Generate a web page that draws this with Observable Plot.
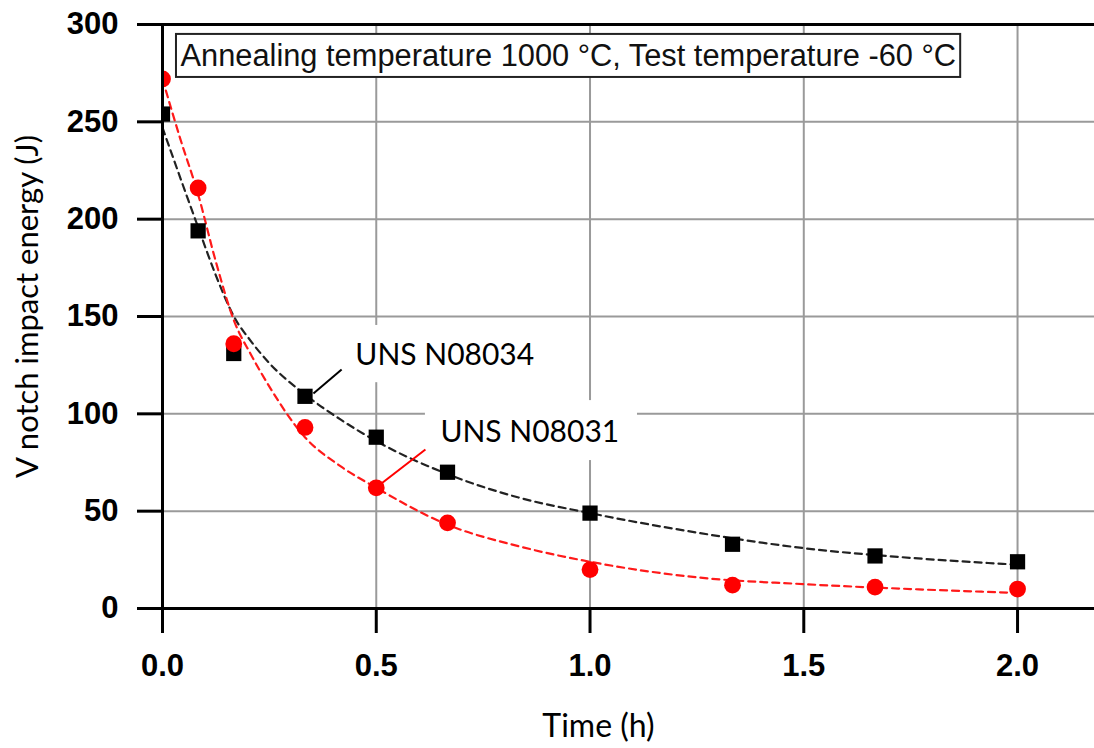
<!DOCTYPE html>
<html>
<head>
<meta charset="utf-8">
<script src="https://cdn.jsdelivr.net/npm/d3@7"></script>
<script src="https://cdn.jsdelivr.net/npm/@observablehq/plot@0.6"></script>
<style>
  html, body { margin: 0; padding: 0; background: #fff; }
  #chart svg { display: block; }
</style>
</head>
<body>
<div id="chart"></div>
<script>
// ---- measured data ----
const hours   = [0, 1/12, 1/6, 1/3, 0.5, 2/3, 1, 4/3, 5/3, 2];
const n08034  = [254, 194, 131, 109, 88, 70, 49, 33, 27, 24];
const n08031  = [272, 216, 136, 93, 62, 44, 20, 12, 11, 10];

// fitted trend curves
const fitHours = [0, 0.042, 0.083, 0.125, 0.167, 0.208, 0.25, 0.333, 0.417, 0.5, 0.667, 0.833, 1.0, 1.25, 1.5, 1.75, 2.0];
const fit34    = [247, 221, 196, 171, 150, 137, 126, 110, 97, 86, 69, 57, 49, 39, 31, 26, 22.5];
const fit31    = [272, 241, 213, 178, 148, 130, 114, 88, 73, 62, 43, 32, 24, 16, 12.5, 10, 8];

const xTicks = [0, 0.5, 1.0, 1.5, 2.0];
const yTicks = [0, 50, 100, 150, 200, 250, 300];
const xGrid  = [0.5, 1.0, 1.5, 2.0];
const yGrid  = [50, 100, 150, 200, 250];

// annotations
const titleText  = "Annealing temperature 1000 °C, Test temperature -60 °C";
const labelNames = ["UNS N08034", "UNS N08031"];
const labelX     = [0.451, 0.650];
const labelY     = [130, 90.5];
const labelColor = ["black", "red"];
const boxX1 = [0.428, 0.615], boxX2 = [0.896, 1.111];
const boxY1 = [116, 76],      boxY2 = [145.4, 106.8];
const leadX1 = [0.353, 0.512], leadY1 = [110.4, 64.2];
const leadX2 = [0.419, 0.615], leadY2 = [122.8, 81.7];

const pts34 = hours.map((h, i) => ({h, v: n08034[i]}));
const pts31 = hours.map((h, i) => ({h, v: n08031[i]}));
const line34 = fitHours.map((h, i) => ({h, v: fit34[i]}));
const line31 = fitHours.map((h, i) => ({h, v: fit31[i]}));
const labels = labelNames.map((t, i) => ({t, x: labelX[i], y: labelY[i], c: labelColor[i],
  bx1: boxX1[i], bx2: boxX2[i], by1: boxY1[i], by2: boxY2[i],
  lx1: leadX1[i], ly1: leadY1[i], lx2: leadX2[i], ly2: leadY2[i]}));

const calibri = "Lato, 'Open Sans', sans-serif";
const arial = "'Liberation Sans', Arial, sans-serif";

const chart = Plot.plot({
  width: 1094,
  height: 748,
  marginLeft: 162,
  marginRight: 0,
  marginTop: 24,
  marginBottom: 140,
  style: {background: "#fff", overflow: "visible"},
  x: {domain: [0, 2.18], axis: null},
  y: {domain: [0, 300], axis: null},
  marks: [
    // grid
    Plot.ruleX(xGrid, {stroke: "#9a9a9a", strokeWidth: 2}),
    Plot.ruleY(yGrid, {stroke: "#9a9a9a", strokeWidth: 2}),
    // white label boxes
    Plot.rect(labels, {x1: "bx1", x2: "bx2", y1: "by1", y2: "by2", fill: "white"}),
    // title box
    Plot.rect([titleText], {x1: () => 0.0327, x2: () => 1.867, y1: () => 272.8, y2: () => 294.9,
      fill: "white", stroke: "#222", strokeWidth: 2}),
    Plot.text([titleText], {x: () => 0.0421, y: () => 283.6, text: d => d, textAnchor: "start",
      fontFamily: arial, fontSize: 30.8, fill: "#111"}),
    // fit curves
    Plot.line(line34, {x: "h", y: "v", curve: "monotone-x", stroke: "#222", strokeWidth: 2.2, strokeDasharray: "7,5"}),
    Plot.line(line31, {x: "h", y: "v", curve: "monotone-x", stroke: "#ff1a1a", strokeWidth: 2.2, strokeDasharray: "7,5"}),
    // markers
    Plot.dot(pts34, {x: "h", y: "v", symbol: "square", r: 8.6, fill: "black", clip: true}),
    Plot.dot(pts31, {x: "h", y: "v", symbol: "circle", r: 8.4, fill: "#ff0000", clip: true}),
    // leader lines
    Plot.link(labels, {x1: "lx1", y1: "ly1", x2: "lx2", y2: "ly2", stroke: "c", strokeWidth: 2}),
    // label text
    Plot.text(labels, {x: "x", y: "y", text: "t", fill: "black", textAnchor: "start",
      fontFamily: calibri, fontSize: 30}),
    // axes frame lines
    Plot.ruleX([0], {stroke: "black", strokeWidth: 3}),
    Plot.ruleY([0, 300], {stroke: "black", strokeWidth: 3}),
    // axes
    Plot.axisY({ticks: yTicks, tickSize: 25, tickPadding: 19, fontSize: 31, fontWeight: "bold",
      fontFamily: arial, color: "black", strokeWidth: 3, label: null}),
    Plot.axisX({ticks: xTicks, tickSize: 25, tickPadding: 20, fontSize: 31, fontWeight: "bold",
      fontFamily: arial, color: "black", strokeWidth: 3, label: null, tickFormat: d3.format(".1f")}),
    // axis titles
    Plot.text(["V notch impact energy (J)"], {frameAnchor: "left", textAnchor: "middle", dx: -134, dy: -10, rotate: -90,
      fontFamily: calibri, fontSize: 31, fill: "black"}),
    Plot.text(["Time (h)"], {frameAnchor: "bottom", dx: -30, dy: 128,
      fontFamily: calibri, fontSize: 32, fill: "black"})
  ]
});
document.getElementById("chart").appendChild(chart);
</script>
</body>
</html>
